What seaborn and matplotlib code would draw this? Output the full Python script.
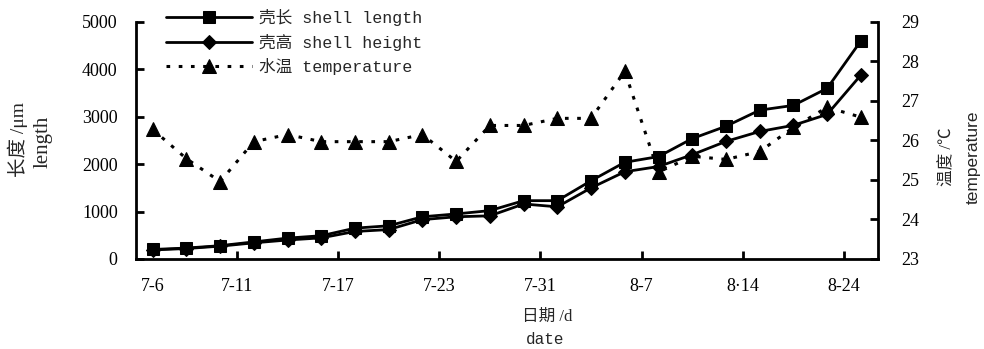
"""Shell growth and water temperature over the culture period."""

import matplotlib

matplotlib.use("Agg")
import matplotlib.pyplot as plt
import numpy as np
import pandas as pd
import seaborn as sns

# sampling index 0..21, labelled dates
TICK_POS = [0, 2.5, 5.5, 8.5, 11.5, 14.5, 17.5, 20.5]
TICK_LABELS = ["7-6", "7-11", "7-17", "7-23", "7-31", "8-7", "8·14", "8-24"]

shell_length = [200, 230, 280, 360, 440, 490, 650, 700, 890, 950, 1020, 1230,
                1230, 1650, 2040, 2160, 2540, 2800, 3140, 3240, 3600, 4600]
shell_height = [190, 220, 270, 340, 400, 445, 580, 620, 830, 890, 910, 1160,
                1100, 1500, 1840, 1950, 2200, 2480, 2690, 2820, 3050, 3880]
temperature = [26.28, 25.54, 24.96, 25.97, 26.15, 25.97, 25.97, 25.97, 26.15, 25.47,
               26.38, 26.38, 26.56, 26.56, 27.75, 25.2, 25.6, 25.52, 25.72, 26.33,
               26.84, 26.59]

SERIF = ["Liberation Serif", "Noto Sans CJK SC"]
MONO = ["Liberation Mono", "Noto Sans CJK SC"]
SANS = ["Liberation Sans", "Noto Sans CJK SC"]

sns.set_theme(style="ticks")
plt.rcParams["font.family"] = SERIF

data = pd.DataFrame({
    "idx": np.arange(len(shell_length)),
    "length": shell_length,
    "height": shell_height,
    "temp": temperature,
})

fig = plt.figure(figsize=(9.84, 3.49), dpi=100)
ax = fig.add_axes([0.138, 0.258, 0.754, 0.679])
ax2 = ax.twinx()

sns.lineplot(data=data, x="idx", y="length", ax=ax, color="black", lw=2,
             marker="s", markersize=8, markeredgecolor="black",
             label="壳长 shell length", legend=False)
sns.lineplot(data=data, x="idx", y="height", ax=ax, color="black", lw=2,
             marker="D", markersize=7, markeredgecolor="black",
             label="壳高 shell height", legend=False)
sns.lineplot(data=data, x="idx", y="temp", ax=ax2, color="black", lw=2.2,
             linestyle=(0, (1.2, 2.8)), marker="^", markersize=10,
             markeredgecolor="black", label="水温 temperature", legend=False)

ax.set_xlim(-0.5, 21.5)
ax.set_ylim(0, 5000)
ax.set_yticks(range(0, 5001, 1000))
ax2.set_ylim(23, 29)
ax2.set_yticks(range(23, 30))

ax.set_xticks(TICK_POS)
ax.set_xticklabels(TICK_LABELS)
ax.xaxis.get_major_ticks()[0].tick1line.set_visible(False)
ax.set_xlabel("")
ax.set_ylabel("")
ax2.set_ylabel("")

for a in (ax, ax2):
    a.spines["top"].set_visible(False)
    for s in ("left", "right", "bottom"):
        a.spines[s].set_linewidth(2)
        a.spines[s].set_color("black")
ax.spines["right"].set_visible(False)
ax2.spines["left"].set_visible(False)
ax2.spines["bottom"].set_visible(False)

ax.tick_params(axis="x", direction="in", length=6, width=2, pad=14,
               labelsize=13, colors="black")
ax.tick_params(axis="y", direction="in", length=6, width=2, pad=13,
               labelsize=13, colors="black")
ax2.tick_params(axis="y", direction="in", length=6, width=2, pad=17,
                labelsize=13, colors="black")

# axis titles, two lines each (Chinese above English)
fig.text(0.018, 0.60, "长度 /μm", rotation=90, ha="center", va="center",
         fontsize=14, family=SERIF)
fig.text(0.044, 0.593, "length", rotation=90, ha="center", va="center",
         fontsize=15, family=SERIF)
fig.text(0.963, 0.55, "温度 /℃", rotation=90, ha="center", va="center",
         fontsize=12, family=SERIF)
fig.text(0.989, 0.55, "temperature", rotation=90, ha="center", va="center",
         fontsize=12.5, family=SANS)
fig.text(0.556, 0.092, "日期 /d", ha="center", va="center", fontsize=12,
         family=SERIF)
fig.text(0.554, 0.028, "date", ha="center", va="center", fontsize=11.5,
         family=MONO)

handles = ax.get_lines()[:2] + ax2.get_lines()[:1]
labels = ["壳长 shell length", "壳高 shell height", "水温 temperature"]
leg = fig.legend(handles, labels, loc="upper left",
                 bbox_to_anchor=(0.153, 1.017), frameon=False,
                 handlelength=5.2, handletextpad=0.4, labelspacing=0.45,
                 prop={"family": MONO, "size": 12})

fig.savefig("out.png", dpi=100)
